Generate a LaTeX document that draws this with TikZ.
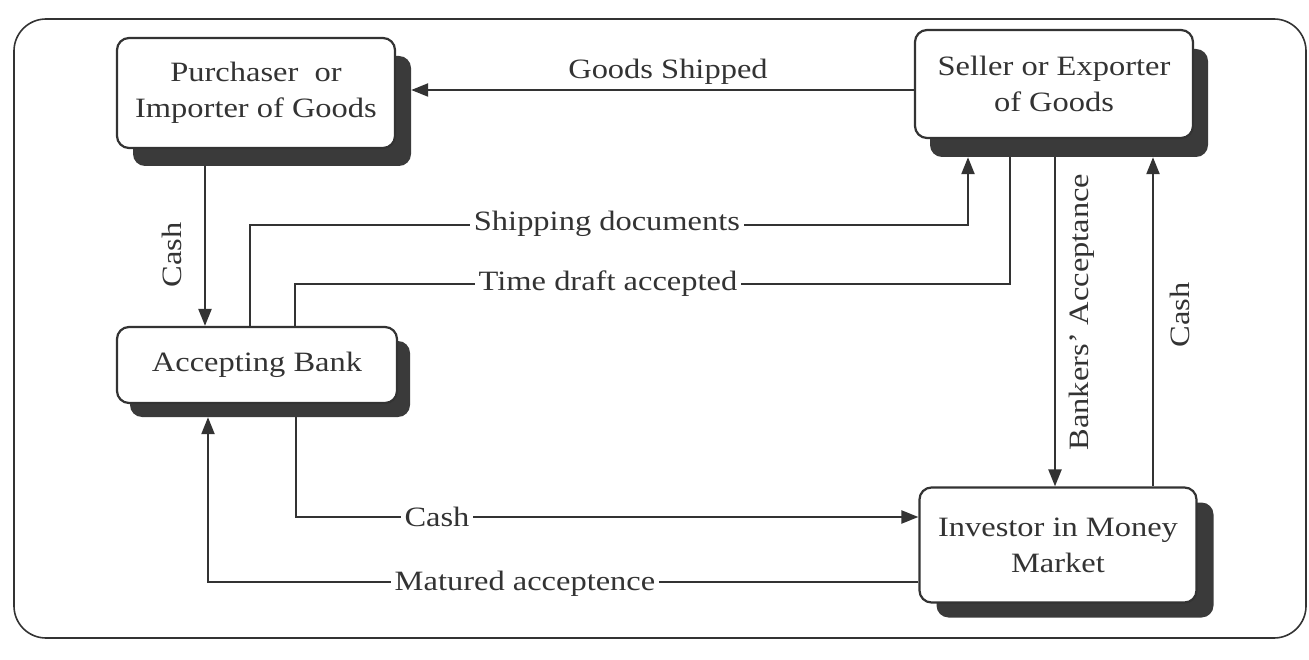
\documentclass[tikz,border=0pt]{standalone}
\usepackage{fontspec}
\setmainfont{Liberation Serif}[FakeStretch=1.16]
\usetikzlibrary{arrows.meta}
\definecolor{ink}{HTML}{333333}
\definecolor{shade}{HTML}{3A3A3A}
\begin{document}
\begin{tikzpicture}[x=1pt,y=-1pt,
  txt/.style={font=\fontsize{28}{36}\selectfont,text=ink},
  box/.style={txt,draw=ink,line width=2.2pt,rounded corners=12pt,fill=white,align=center,inner sep=0pt},
  shadowbox/.style={fill=shade,rounded corners=12pt,inner sep=0pt},
  link/.style={draw=ink,line width=2.3pt},
  arr/.style={link,-{Triangle[length=17pt,width=13pt]}},
  lbl/.style={txt,fill=white,inner xsep=4pt,inner ysep=1pt}]
\useasboundingbox (0,0) rectangle (1309,660);
% outer frame
\draw[ink,line width=1.6pt,rounded corners=32pt] (14,19) rectangle (1306,638);

% drop shadows
\node[shadowbox,minimum width=278pt,minimum height=110pt] (purchsh) at (272,111) {};
\node[shadowbox,minimum width=278pt,minimum height=108pt] (sellersh) at (1069,103) {};
\node[shadowbox,minimum width=280pt,minimum height=76pt] (banksh) at (270,379) {};
\node[shadowbox,minimum width=277pt,minimum height=115pt] (investsh) at (1075,560) {};

% boxes
\node[box,minimum width=278pt,minimum height=110pt] (purch) at (256,93) {Purchaser\ \ or\\Importer of Goods};
\node[box,minimum width=278pt,minimum height=108pt] (seller) at (1054,84) {Seller or Exporter\\of Goods};
\node[box,minimum width=280pt,minimum height=76pt] (bank) at (257,365) {Accepting Bank};
\node[box,minimum width=277pt,minimum height=115pt] (invest) at (1058,545) {Investor in Money\\Market};

% goods shipped
\draw[arr] (seller.west |- 0,90) -- (purchsh.east |- 0,90);
\node[txt] (lgoods) at (668,72) {Goods Shipped};

% cash from purchaser to bank
\draw[arr] (205,0 |- purchsh.south) -- (205,0 |- bank.north);
\node[txt,rotate=90] (lcash1) at (172,255) {Cash};

% shipping documents
\draw[arr] (250,0 |- bank.north) |- (968,225) -- (968,0 |- sellersh.south);
\node[lbl] (lship) at (607,224) {Shipping documents};

% time draft accepted
\draw[link] (1010,0 |- sellersh.south) |- (295,284) -- (295,0 |- bank.north);
\node[lbl] (ltime) at (608,284) {Time draft accepted};

% bankers' acceptance
\draw[arr] (1055,0 |- sellersh.south) -- (1055,0 |- invest.north);
\node[txt,rotate=90] (lba) at (1082,312) {Bankers’ Acceptance};

% cash from investor to seller
\draw[arr] (1153,0 |- invest.north) -- (1153,0 |- sellersh.south);
\node[txt,rotate=90] (lcash2) at (1180,315) {Cash};

% cash from bank to investor
\draw[arr] (296,0 |- banksh.south) |- (invest.west |- 0,517);
\node[lbl] (lcash3) at (437,517) {Cash};

% matured acceptance
\draw[arr] (invest.west |- 0,582) -| (208,0 |- banksh.south);
\node[lbl] (lmat) at (525,584) {Matured acceptence};
\end{tikzpicture}
\end{document}
